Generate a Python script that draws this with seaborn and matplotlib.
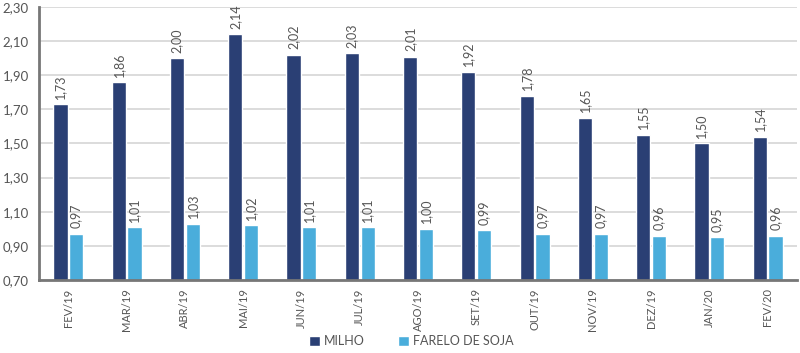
import pandas as pd
import seaborn as sns
import matplotlib.pyplot as plt
import numpy as np

meses = ['FEV/19', 'MAR/19', 'ABR/19', 'MAI/19', 'JUN/19', 'JUL/19', 'AGO/19',
         'SET/19', 'OUT/19', 'NOV/19', 'DEZ/19', 'JAN/20', 'FEV/20']
milho = [1.73, 1.86, 2.00, 2.14, 2.02, 2.03, 2.01, 1.92, 1.78, 1.65, 1.55, 1.50, 1.54]
farelo = [0.97, 1.01, 1.03, 1.02, 1.01, 1.01, 1.00, 0.99, 0.97, 0.97, 0.96, 0.95, 0.96]
yticks = np.arange(0.70, 2.31, 0.20)

df = pd.DataFrame({'mes': meses * 2,
                   'valor': milho + farelo,
                   'produto': ['MILHO'] * len(meses) + ['FARELO DE SOJA'] * len(meses)})

sns.set_style('white')
plt.rcParams['font.family'] = ['Lato', 'DejaVu Sans']
cor_txt = '#555555'

fig = plt.figure(figsize=(8, 3.53), dpi=100)
ax = fig.add_axes([0.049, 0.207, 0.947, 0.773])
sns.barplot(data=df, x='mes', y='valor', hue='produto', ax=ax,
            palette=['#2a3f74', '#4aaddb'], width=0.54, gap=0.1, saturation=1)

for cont in ax.containers:
    labels = [f'{v:.2f}'.replace('.', ',') for v in cont.datavalues]
    ax.bar_label(cont, labels=labels, rotation=90, padding=4, fontsize=9, color=cor_txt)

ax.set_ylim(0.70, 2.30)
ax.set_xlim(-0.5, len(meses) - 0.5)
ax.set_yticks(yticks)
ax.set_yticklabels([f'{t:.2f}'.replace('.', ',') for t in yticks], fontsize=9.5, color=cor_txt)
ax.yaxis.grid(True, color='#d6d6d6', linewidth=1.2)
ax.set_axisbelow(True)
ax.tick_params(axis='y', length=4, color='#777777', width=1.5)
ax.tick_params(axis='x', which='major', length=0, labelsize=8, labelcolor=cor_txt, rotation=90, pad=6)
ax.set_xticks(np.arange(-0.5, len(meses), 1), minor=True)
ax.tick_params(axis='x', which='minor', length=5, color='#777777', width=1.5)
for s in ['top', 'right']:
    ax.spines[s].set_visible(False)
for s in ['left', 'bottom']:
    ax.spines[s].set_color('#777777')
    ax.spines[s].set_linewidth(2)
ax.set_xlabel('')
ax.set_ylabel('')

ax.legend(loc='center', bbox_to_anchor=(0.491, -0.225), ncol=2, frameon=False,
          fontsize=9, handlelength=0.9, handleheight=0.9, columnspacing=2.6,
          labelcolor=cor_txt, handletextpad=0.3)

fig.savefig('out.png', dpi=100)
